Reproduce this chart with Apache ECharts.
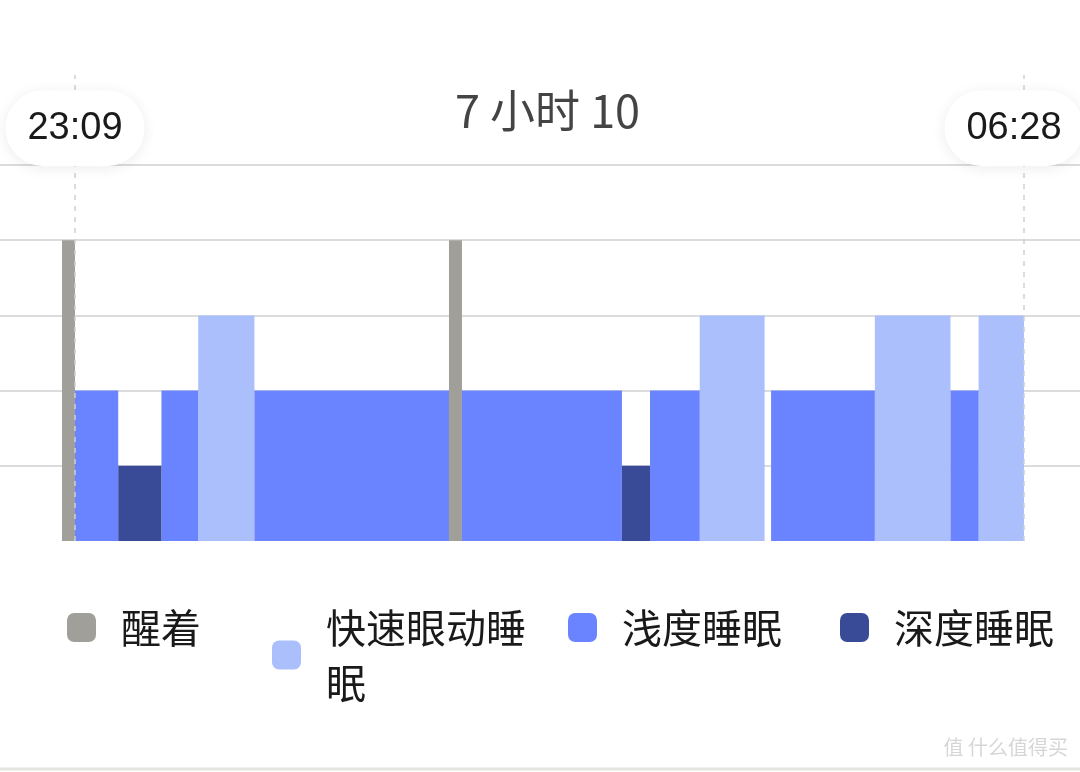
<!DOCTYPE html>
<html>
<head>
<meta charset="utf-8">
<title>睡眠</title>
<script src="https://cdn.jsdelivr.net/npm/echarts@6/dist/echarts.min.js"></script>
<style>
  html, body { margin: 0; padding: 0; background: #fff; }
  #chart { width: 1080px; height: 772px; }
</style>
</head>
<body>
<div id="chart"></div>
<script>
// minutes after 23:09 (start of sleep)
const segStart = [-6, 0, 20, 40, 57, 83, 173, 179, 253, 266, 289, 322, 370, 405, 418]
const segEnd = [0, 20, 40, 57, 83, 173, 179, 253, 266, 289, 319, 370, 405, 418, 439]
const segStage = ['醒着', '浅度睡眠', '深度睡眠', '浅度睡眠', '快速眼动睡眠', '浅度睡眠', '醒着', '浅度睡眠',
  '深度睡眠', '浅度睡眠', '快速眼动睡眠', '浅度睡眠', '快速眼动睡眠', '浅度睡眠', '快速眼动睡眠']

const stages = ['醒着', '快速眼动睡眠', '浅度睡眠', '深度睡眠']
const stageLevel = [4, 3, 2, 1]
const stageColor = ['#a19f9a', '#aabffc', '#6984fe', '#394b97']

const levelLines = [1, 2, 3, 4, 5]
const timeMarks = [0, 439]
const timeLabels = ['23:09', '06:28']
const titleText = '7 小时 10'

const chart = echarts.init(document.getElementById('chart'))

// one custom series for each stage
const stageSeries = stages.map((name, i) => {
  const data = []
  segStage.forEach((s, k) => {
    if (s === name) data.push([segStart[k], segEnd[k], stageLevel[i]])
  })
  return {
    name: name,
    type: 'custom',
    z: 2,
    itemStyle: { color: stageColor[i] },
    encode: { x: [0, 1], y: 2 },
    renderItem: function(params, api) {
      const p0 = api.coord([api.value(0), api.value(2)])
      const p1 = api.coord([api.value(1), 0])
      return {
        type: 'rect',
        shape: { x: p0[0], y: p0[1], width: p1[0] - p0[0], height: p1[1] - p0[1] },
        style: { fill: stageColor[i] }
      }
    },
    data: data
  }
})

const legendLeft = [67, 272, 568, 840]
const legends = stages.map((name, i) => ({
  data: [name],
  left: legendLeft[i],
  top: 600,
  padding: 0,
  icon: 'roundRect',
  itemWidth: 29,
  itemHeight: 29,
  selectedMode: false,
  formatter: function(n) {
    return n === '快速眼动睡眠' ? '快速眼动睡\n眠' : n
  },
  textStyle: {
    fontSize: 40,
    lineHeight: 55,
    color: '#1a1a1a',
    fontFamily: 'Noto Sans CJK SC',
    padding: [0, 0, 0, 20]
  }
}))

chart.setOption({
  animation: false,
  title: {
    text: titleText,
    left: 450,
    top: 83,
    textStyle: {
      fontSize: 45,
      fontWeight: 'normal',
      color: '#444',
      fontFamily: 'Noto Sans CJK SC'
    }
  },
  legend: legends,
  grid: { left: 0, right: 0, top: 75, bottom: 231 },
  xAxis: { type: 'value', min: -34.69, max: 464.9, show: false },
  yAxis: { type: 'value', min: 0, max: 6.197, show: false },
  graphic: [
    {
      type: 'line',
      shape: { x1: 0, y1: 769, x2: 1080, y2: 769 },
      style: { stroke: '#e4e4e0', lineWidth: 3 }
    },
    {
      type: 'text',
      right: 12,
      top: 737,
      style: { text: '值 什么值得买', fontSize: 20, fill: '#d6d6d6', fontFamily: 'Noto Sans CJK SC' }
    }
  ],
  series: [
    {
      name: 'grid-lines',
      type: 'line',
      z: 1,
      data: [],
      markLine: {
        silent: true,
        z: 1,
        symbol: 'none',
        label: { show: false },
        lineStyle: { color: '#dcdcdc', width: 2, type: 'solid' },
        data: levelLines.map(v => ({ yAxis: v }))
      }
    },
    ...stageSeries,
    {
      name: 'time-lines',
      type: 'line',
      z: 3,
      data: [],
      markLine: {
        silent: true,
        z: 5,
        symbol: 'none',
        label: { show: false },
        lineStyle: { color: '#d0d0d0', width: 1.5, type: [5, 6] },
        data: timeMarks.map(v => ({ xAxis: v }))
      }
    },
    {
      name: 'time-labels',
      type: 'line',
      z: 4,
      data: [],
      markPoint: {
        silent: true,
        z: 7,
        symbol: 'circle',
        symbolSize: 0,
        data: timeMarks.map((v, i) => ({
          coord: [v, 5.49],
          value: timeLabels[i],
          label: { offset: i === 1 ? [-10, 0] : [0, 0] }
        })),
        label: {
          show: true,
          position: 'inside',
          formatter: '{c}',
          fontSize: 38,
          color: '#1a1a1a',
          fontFamily: 'Liberation Sans',
          backgroundColor: '#fff',
          borderRadius: 38,
          padding: [20, 22, 18, 22],
          shadowBlur: 14,
          shadowColor: 'rgba(0,0,0,0.08)',
          shadowOffsetY: 2
        }
      }
    }
  ]
})
</script>
</body>
</html>
